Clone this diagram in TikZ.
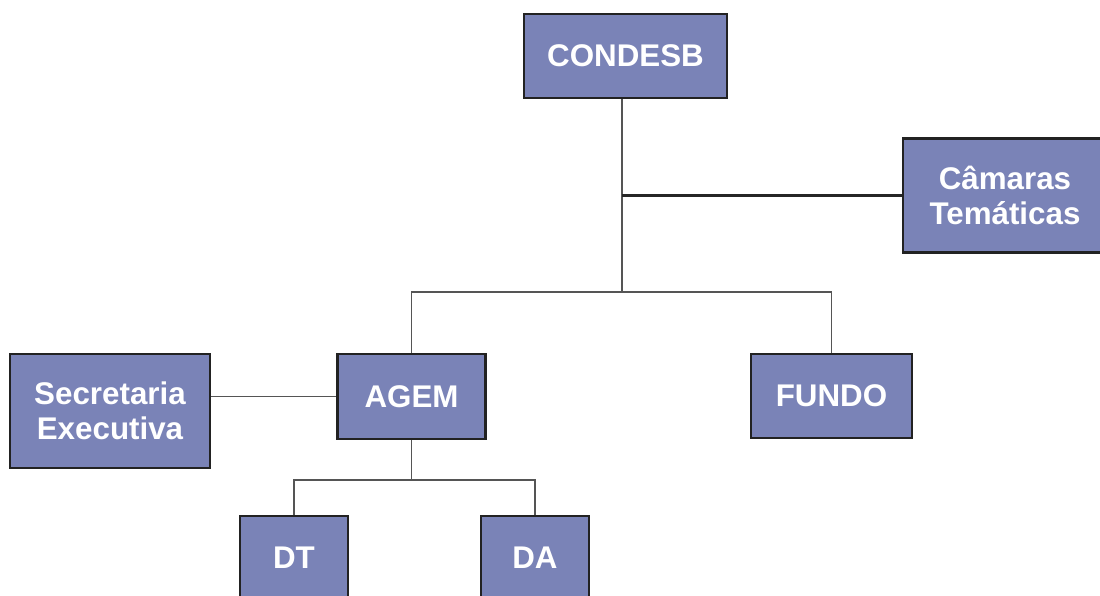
\documentclass[tikz,border=0pt]{standalone}
\usepackage{fontspec}
\setmainfont{Liberation Sans}
\definecolor{boxfill}{HTML}{7A83B7}
\definecolor{boxline}{HTML}{222222}
\definecolor{connline}{HTML}{555555}
\begin{document}
\begin{tikzpicture}[x=0.75pt,y=-0.75pt,
  orgbox/.style={draw=boxline,line width=1.9pt,fill=boxfill,inner sep=0pt,
    text=white,font=\fontsize{23.5}{26.5}\selectfont\bfseries,align=center},
  conn/.style={draw=connline,line width=1.1pt},
  strongconn/.style={draw=black!85,line width=1.6pt}]
\useasboundingbox (0,0) rectangle (1100,596);
\node[orgbox,minimum width=203*0.75pt,minimum height=84*0.75pt] (condesb) at (625.5,56) {CONDESB};
\node[orgbox,minimum width=204*0.75pt,minimum height=114*0.75pt] (camaras) at (1005,195.5) {Câmaras\\Temáticas};
\node[orgbox,minimum width=200*0.75pt,minimum height=114*0.75pt] (secretaria) at (110,411) {Secretaria\\Executiva};
\node[orgbox,minimum width=148*0.75pt,minimum height=85*0.75pt] (agem) at (411.5,396.5) {AGEM};
\node[orgbox,minimum width=161*0.75pt,minimum height=84*0.75pt] (fundo) at (831.5,396) {FUNDO};
\node[orgbox,minimum width=108*0.75pt,minimum height=84*0.75pt] (dt) at (294,558) {DT};
\node[orgbox,minimum width=108*0.75pt,minimum height=84*0.75pt] (da) at (535,558) {DA};
\coordinate (j1) at (622,292);
\coordinate (j2) at (411.5,480);
\draw[conn] (condesb.south -| j1) -- (j1);
\draw[strongconn] (j1 |- camaras.west) -- (camaras.west);
\draw[conn] (agem.north) |- (j1) -| (fundo.north);
\draw[conn] (agem.west -| secretaria.east) -- (agem.west);
\draw[conn] (agem.south) -- (j2);
\draw[conn] (dt.north) |- (j2) -| (da.north);
\end{tikzpicture}
\end{document}
